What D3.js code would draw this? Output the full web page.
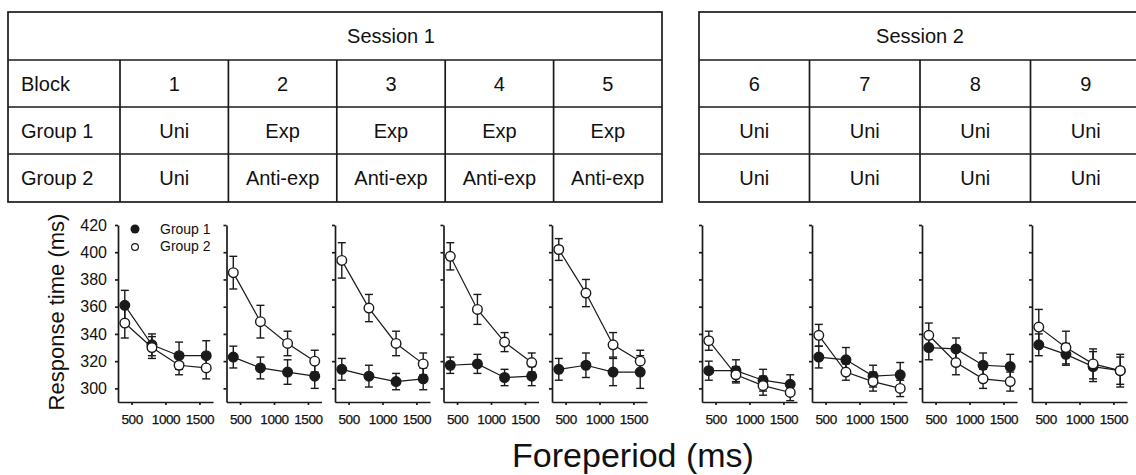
<!DOCTYPE html>
<html>
<head>
<meta charset="utf-8">
<script src="https://cdn.jsdelivr.net/npm/d3@7"></script>
<style>
  body { margin: 0; background: #fff; }
  text { font-family: "Liberation Sans", Arial, sans-serif; fill: #111; }
</style>
</head>
<body>
<svg width="1136" height="475"></svg>
<script>
// ---- data ----
var foreperiods = [400, 800, 1200, 1600];
var blocks = [1, 2, 3, 4, 5, 6, 7, 8, 9];
var blockSession = [1, 1, 1, 1, 1, 2, 2, 2, 2];
var sessionNames = ["Session 1", "Session 2"];
var rowLabels = ["Block", "Group 1", "Group 2"];
var group1Cond = ["Uni", "Exp", "Exp", "Exp", "Exp", "Uni", "Uni", "Uni", "Uni"];
var group2Cond = ["Uni", "Anti-exp", "Anti-exp", "Anti-exp", "Anti-exp", "Uni", "Uni", "Uni", "Uni"];

// mean RT per block (rows) and foreperiod (cols)
var group1Mean = [
  [361, 332, 324, 324],
  [323, 315, 312, 309],
  [314, 309, 305, 307],
  [317, 318, 308, 309],
  [314, 317, 312, 312],
  [313, 313, 306, 303],
  [323, 321, 309, 310],
  [330, 329, 317, 316],
  [332, 325, 316, 313]
];
var group1Err = [
  [11, 8, 10, 11],
  [8, 8, 9, 9],
  [8, 8, 6, 8],
  [6, 7, 6, 7],
  [8, 9, 10, 12],
  [7, 8, 8, 7],
  [8, 9, 8, 9],
  [9, 8, 9, 9],
  [8, 8, 11, 12]
];
var group2Mean = [
  [348, 330, 317, 315],
  [385, 349, 333, 320],
  [394, 359, 333, 318],
  [397, 358, 334, 319],
  [402, 370, 332, 320],
  [335, 310, 302, 297],
  [339, 312, 305, 300],
  [339, 319, 307, 305],
  [345, 330, 318, 313]
];
var group2Err = [
  [11, 8, 7, 8],
  [12, 12, 9, 8],
  [13, 10, 9, 8],
  [10, 11, 7, 7],
  [8, 10, 9, 8],
  [7, 6, 7, 6],
  [8, 6, 7, 6],
  [9, 9, 7, 7],
  [13, 12, 11, 10]
];
var yTicks = [300, 320, 340, 360, 380, 400, 420];
var xTicks = [500, 1000, 1500];

var svg = d3.select("svg");
var ink = "#1a1a1a";

// ---- table ----
var rowY = [12, 60, 107, 154, 202];
var tableLeft = [8, 699];
var colS1 = d3.scaleLinear().domain([1, 6]).range([120, 662]);
var colS2 = d3.scaleLinear().domain([6, 10]).range([699, 1141]);
function colLeft(b) { return b <= 5 ? colS1(b) : colS2(b); }
function colRight(b) { return b <= 5 ? colS1(b + 1) : colS2(b + 1); }

var table = svg.append("g").attr("stroke", ink).attr("stroke-width", 1.7).attr("fill", "none");

sessionNames.forEach(function(name, si) {
  var bs = blocks.filter(function(b, i) { return blockSession[i] == si + 1; });
  var x0 = tableLeft[si], x1 = colRight(bs[bs.length - 1]);
  table.append("rect").attr("x", x0).attr("y", rowY[0]).attr("width", x1 - x0).attr("height", rowY[4] - rowY[0]);
  rowY.slice(1, 4).forEach(function(y) {
    table.append("line").attr("x1", x0).attr("x2", x1).attr("y1", y).attr("y2", y);
  });
  bs.forEach(function(b) {
    if (colLeft(b) > x0 + 1)
      table.append("line").attr("x1", colLeft(b)).attr("x2", colLeft(b)).attr("y1", rowY[1]).attr("y2", rowY[4]);
  });
  svg.append("text")
    .attr("x", (colLeft(bs[0]) + x1) / 2)
    .attr("y", (rowY[0] + rowY[1]) / 2 + 7)
    .attr("text-anchor", "middle").attr("font-size", 20)
    .text(name);
});

rowLabels.forEach(function(lab, r) {
  svg.append("text").attr("x", 21).attr("y", (rowY[r + 1] + rowY[r + 2]) / 2 + 7)
    .attr("font-size", 20).text(lab);
});

var cellRows = [blocks.map(String), group1Cond, group2Cond];
cellRows.forEach(function(vals, r) {
  svg.append("g").selectAll("text").data(vals).enter().append("text")
    .attr("x", function(d, i) { return (colLeft(blocks[i]) + colRight(blocks[i])) / 2; })
    .attr("y", (rowY[r + 1] + rowY[r + 2]) / 2 + 7)
    .attr("text-anchor", "middle").attr("font-size", 20)
    .text(function(d) { return d; });
});

// ---- panels ----
var panelS1 = d3.scaleLinear().domain([1, 5]).range([118, 552]);
var panelS2 = d3.scaleLinear().domain([6, 9]).range([702, 1032]);
var x = d3.scaleLinear().domain([300, 1700]).range([0, 95]);
var y = d3.scaleLinear().domain([290, 420]).range([402, 225]);

blocks.forEach(function(b, bi) {
  var g = svg.append("g").attr("transform", "translate(" + (b <= 5 ? panelS1(b) : panelS2(b)) + ",0)");

  var ya = g.append("g").call(d3.axisLeft(y).tickValues(yTicks).tickSize(3).tickSizeOuter(0).tickPadding(8)
    .tickFormat(bi == 0 ? d3.format("d") : function() { return ""; }));
  var xa = g.append("g").attr("transform", "translate(0," + y.range()[0] + ")")
    .call(d3.axisBottom(x).tickValues(xTicks).tickSize(3).tickSizeOuter(0).tickPadding(9).tickFormat(d3.format("d")));
  [ya, xa].forEach(function(a) {
    a.selectAll("path, line").attr("stroke", ink).attr("stroke-width", 1.7);
    a.selectAll("text").attr("fill", "#111").style("font-family", '"Liberation Sans", Arial, sans-serif');
  });
  ya.selectAll("text").attr("font-size", 16);
  xa.selectAll("text").attr("font-size", 13.5).attr("letter-spacing", -0.4)
    .attr("stroke", "#111").attr("stroke-width", 0.25);

  var series = [
    { mean: group1Mean[bi], err: group1Err[bi], fill: ink },
    { mean: group2Mean[bi], err: group2Err[bi], fill: "#fff" }
  ];
  var line = d3.line().x(function(d, i) { return x(foreperiods[i]); }).y(function(d) { return y(d); });

  series.forEach(function(s) {
    g.append("path").attr("d", line(s.mean)).attr("fill", "none").attr("stroke", ink).attr("stroke-width", 1.2);
    var eb = g.append("g").attr("stroke", ink).attr("stroke-width", 1.4);
    s.mean.forEach(function(m, i) {
      var cx = x(foreperiods[i]);
      eb.append("line").attr("x1", cx).attr("x2", cx).attr("y1", y(m - s.err[i])).attr("y2", y(m + s.err[i]));
      [m - s.err[i], m + s.err[i]].forEach(function(v) {
        eb.append("line").attr("x1", cx - 4).attr("x2", cx + 4).attr("y1", y(v)).attr("y2", y(v));
      });
    });
  });
  series.forEach(function(s) {
    g.append("g").selectAll("circle").data(s.mean).enter().append("circle")
      .attr("cx", function(d, i) { return x(foreperiods[i]); })
      .attr("cy", function(d) { return y(d); })
      .attr("r", 4.8)
      .attr("fill", s.fill).attr("stroke", ink).attr("stroke-width", 1.4);
  });
});

// ---- legend ----
var leg = svg.append("g");
leg.append("circle").attr("cx", 135).attr("cy", 229).attr("r", 4.5).attr("fill", ink);
leg.append("circle").attr("cx", 135).attr("cy", 247).attr("r", 3.4).attr("fill", "#fff").attr("stroke", ink).attr("stroke-width", 1.2);
leg.append("text").attr("x", 160).attr("y", 234).attr("font-size", 14).text("Group 1");
leg.append("text").attr("x", 160).attr("y", 251).attr("font-size", 14).text("Group 2");

// ---- axis titles ----
svg.append("text").attr("transform", "translate(64,312) rotate(-90)")
  .attr("text-anchor", "middle").attr("font-size", 22).text("Response time (ms)");
svg.append("text").attr("x", 633).attr("y", 467)
  .attr("text-anchor", "middle").attr("font-size", 34).text("Foreperiod (ms)");
</script>
</body>
</html>
